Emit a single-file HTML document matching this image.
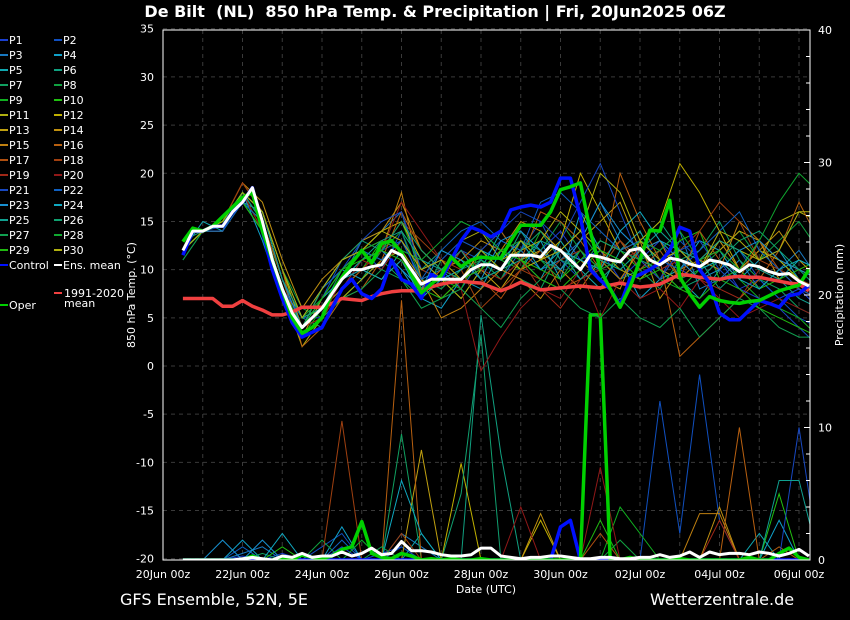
<!DOCTYPE html>
<html><head><meta charset="utf-8"><style>
html,body{margin:0;padding:0;background:#000;}
svg{display:block;font-family:"DejaVu Sans","Liberation Sans",sans-serif;}
</style></head><body>
<svg id="chart" width="850" height="620" viewBox="0 0 850 620">
<rect x="0" y="0" width="850" height="620" fill="#000"/>
<text x="435" y="17" fill="#fff" font-size="16" font-weight="bold" text-anchor="middle" style="white-space:pre" xml:space="preserve">De Bilt  (NL)  850 hPa Temp. &amp; Precipitation | Fri, 20Jun2025 06Z</text>
<defs><clipPath id="pc"><rect x="163" y="30" width="647" height="530"/></clipPath></defs>
<g id="grid"></g>
<g id="precip" clip-path="url(#pc)"></g>
<g id="temps" clip-path="url(#pc)"></g>
<rect x="163" y="30" width="647" height="530" fill="none" stroke="#fff" stroke-width="1"/>
<g id="axes"></g>
<g id="legend"></g>
<text x="135" y="295" fill="#fff" font-size="11" text-anchor="middle" transform="rotate(-90 135 295)">850 hPa Temp. (°C)</text>
<text x="843" y="295" fill="#fff" font-size="11" text-anchor="middle" transform="rotate(-90 843 295)">Precipitation (mm)</text>
<text x="486" y="593" fill="#fff" font-size="11" text-anchor="middle">Date (UTC)</text>
<text x="120" y="605" fill="#fff" font-size="16">GFS Ensemble, 52N, 5E</text>
<text x="650" y="605" fill="#fff" font-size="16">Wetterzentrale.de</text>
</svg>
<script>
const xLabels=["20Jun 00z","22Jun 00z","24Jun 00z","26Jun 00z","28Jun 00z","30Jun 00z","02Jul 00z","04Jul 00z","06Jul 00z"];
const yTicks=[35,30,25,20,15,10,5,0,-5,-10,-15,-20];
const y2Ticks=[40,30,20,10,0];
const memberNames=["P1","P2","P3","P4","P5","P6","P7","P8","P9","P10","P11","P12","P13","P14","P15","P16","P17","P18","P19","P20","P21","P22","P23","P24","P25","P26","P27","P28","P29","P30"];
const memberColors=["#1a3fd0","#1050c0","#1878c0","#10a0c8","#10a8b0","#10a080","#10a060","#10a040","#10b020","#20c010","#b0b010","#c0b000","#c0a010","#c09010","#c08010","#b86010","#b05010","#a04010","#a02818","#901818","#1848c0","#1060c0","#1890d0","#10a8c0","#10a090","#10a070","#10a050","#10a830","#20b810","#b0b010"];
// 12-hourly member temps, t = 0.5 .. 16.5 days
const memberTemps=[
[12,14,14.5,17,16,10,5,5,8,11,12,13,9,8,10,12,11,13,12,14,11,12,9,11,13,10,9,11,8,9,7,8,6],
[12,14,14,17,14,7,4,7,11,12,10,14,8,9,12,11,13,12,15,11,9,10,14,12,9,13,11,10,12,9,7,5,4],
[11,14,15,18,15,8,3,5,9,13,14,16,9,10,8,11,9,12,10,11,13,17,13,10,12,14,8,9,11,8,10,12,9],
[12,14,14,18,13,7,4,8,10,9,12,10,7,6,9,8,12,10,13,9,16,12,11,7,9,10,13,12,9,11,12,9,8],
[12,15,14,17,16,9,5,6,8,10,9,12,11,9,7,10,14,11,9,13,10,8,12,14,10,9,7,10,12,10,9,11,10],
[13,14,15,17,15,9,5,4,7,9,11,13,10,12,11,9,10,14,11,10,12,9,11,13,15,12,11,8,10,13,11,9,7],
[12,14,15,18,15,8,4,6,10,12,11,9,7,11,13,12,10,9,8,12,14,11,9,10,8,11,12,15,11,9,8,6,5],
[11,14,14,18,16,10,6,5,7,9,12,14,9,8,10,11,9,13,12,15,12,10,13,11,12,9,10,12,14,11,13,15,12],
[12,14,15,17,14,7,3,6,9,11,12,15,10,9,8,12,11,10,14,12,9,11,10,12,9,8,10,11,9,7,6,5,3],
[12,14,15,17,15,9,5,6,9,10,13,12,8,10,11,10,12,11,10,9,11,13,12,10,11,13,14,9,10,8,9,10,11],
[12,14,14,18,15,8,2,5,7,9,11,12,8,9,13,14,11,12,13,16,14,12,10,9,11,12,10,13,12,11,15,16,15],
[12,14,15,18,16,10,4,8,11,12,14,15,11,9,7,10,12,10,11,13,20,16,12,13,15,21,18,14,10,12,11,9,8],
[12,14,14,18,14,7,3,7,10,12,13,12,9,7,9,10,8,11,12,10,13,15,17,12,10,9,11,12,14,13,9,8,7],
[12,14,15,19,17,11,6,9,11,13,14,17,12,10,11,13,12,15,14,12,11,9,8,13,7,10,11,13,10,12,14,11,9],
[12,14,14,18,15,9,4,6,8,10,12,18,9,5,6,8,10,9,7,10,8,11,9,12,13,9,11,10,15,13,11,10,9],
[12,14,15,19,16,10,2,4,7,8,11,16,12,10,9,12,14,11,16,15,13,10,20,15,11,1,3,5,7,9,12,17,13],
[12,14,15,18,15,9,3,5,8,10,9,11,8,10,12,9,7,10,12,8,9,11,13,10,12,9,14,11,9,13,10,8,7],
[12,14,15,19,16,9,4,6,9,11,12,15,13,11,10,6,8,10,9,11,12,10,13,11,9,12,14,17,15,11,10,9,8],
[12,14,15,18,16,9,4,5,8,11,10,13,10,9,12,10,9,11,8,6,9,10,11,12,10,11,9,8,7,10,9,8,7],
[12,14,15,18,14,8,3,5,9,10,12,17,14,11,8,-0.5,3,6,8,7,10,5,9,7,8,6,9,7,5,6,7,6,5],
[12,14,14,18,15,8,4,7,10,13,15,16,10,11,13,12,14,16,15,13,17,21,16,11,9,12,13,10,8,7,6,4,2],
[12,14,14,17,15,8,5,8,10,12,11,13,9,12,14,15,13,12,17,18,16,14,12,13,11,10,12,14,16,12,10,8,7],
[12,14,15,18,16,9,4,6,9,11,12,10,8,12,11,9,13,14,12,10,13,17,14,12,13,11,9,10,12,13,11,10,9],
[12,14,15,18,15,8,4,7,9,10,9,11,7,9,10,12,11,13,10,12,11,10,14,16,13,12,10,11,9,8,10,11,10],
[12,14,15,18,16,9,5,6,9,11,13,14,11,10,12,9,10,11,13,12,9,11,10,12,14,12,11,13,12,10,9,7,6],
[12,14,15,18,15,8,4,8,11,13,12,15,12,10,9,11,10,12,14,11,10,13,12,11,10,8,9,11,13,14,12,10,8],
[12,14,15,17,14,7,3,5,7,8,10,9,6,7,8,6,4,7,9,8,6,5,7,5,4,6,3,5,7,6,4,3,3],
[12,14,15,18,16,10,5,7,10,12,13,12,11,13,15,14,12,13,11,9,12,10,11,13,12,14,11,12,10,13,17,20,18],
[12,14,15,17,14,8,4,7,10,11,12,11,8,7,9,10,12,11,9,8,10,12,11,9,10,8,7,9,8,6,5,4,3],
[12,14,15,18,16,10,5,8,11,12,14,13,10,11,9,12,10,13,11,12,14,20,18,13,11,12,10,14,13,11,12,16,16]
];
// 12-hourly member precipitation (mm)
const memberPrecip=[
[0,0,0,0.3,0,0.5,0,0,1,0,0.5,1,0,0,0,0,0,0,0,0,0,0,0,0,0,0,0,0,0,0,0,0,0],
[0,0,0,0,0,0,0,1,2,0,0,1,0,0,0,0,0,0,0,0,0,0,0,0,12,2,14,3,0,0,0,0,0],
[0,0,0,0.5,1,0,0,0,0,0,0,2,1,0,0,0,0,0,0,0,0,0,0,0,0,0,0,0,0,0,0,0,0],
[0,0,0,1.5,0,0,0,0,2.5,0,0,0,0,0,0,0,0,0,0,0,0,0,0,0,0,0,0,0,0,0,3,0,0],
[0,0,0,0,0,0,0,0,0,0,0,0,2,0,0,0,0,0,0,0,0,0,0,0,0,0,0,0,0,2,0,0,0],
[0,0,0,0,0,0,0,0,0,0,0,0,0,0,0,18.5,8,0,0,0,0,0,0,0,0,0,0,0,0,0,0,0,0],
[0,0,0,0,0.5,0,0,0,0,0,0,9.5,0,0,0,0,0,0,0,0,0,0,0,0,0,0,0,0,0,0,0,0,0],
[0,0,0,0,0,0,0,1.5,0,0,0,0,0,0,0,0,0,0,0,0,0,0,1.5,0,0,0,0,0,0,0,0,0,0],
[0,0,0,0,0,0,0,0,0,0,0,0,0,0,0,0,0,0,0,0,0,0,4,2,0,0,0,0,0,0,0,0,0],
[0,0,0,0,0,1,0,0,0,0,0,0,0,0,0,0,0,0,0,0,0,0,0,0,0,0,0,0,0,0,5,0,0],
[0,0,0,0,0,0,0,0,0,0,0,0,0,0,0,0,0,0,0,0,0,0,0,0,0,0,0,0,0,0,0,0,0],
[0,0,0,0,0,0,0,0,0,0,0,0,0,0,7.3,0,0,0,3,0,0,0,0,0,0,0,0,0,0,0,0,0,0],
[0,0,0,0,0,0,0,0,0,0,0,0,8.3,0,0,0,0,0,0,0,0,0,0,0,0,0,0,0,0,0,0,0,0],
[0,0,0,0,0,0,0,0,0,0,0,0,0,0,0,0,0,0,3.5,0,0,0,0,0,0,0,0,4,0,0,0,0,0],
[0,0,0,0,0,0,0,0,0,0,0,0,0,0,0,0,0,0,0,0,0,0,0,0,0,0,3.5,3.5,0,0,0,0,0],
[0,0,0,0,0,0,0,0,0,0,0,19.6,0,0,0,0,0,0,0,0,0,0,0,0,0,0,0,0,10,0,1,0,0],
[0,0,0,0,0,0,0,0,0,0,0,0,0,0,0,0,0,0,0,0,0,2,0,0,0,0,0,0,0,0,0,0,0],
[0,0,0,0,0,0,0,0,10.5,0,0,2,0,0,0,0,0,0,0,0,0,0,0,0,0,0,0,0,0,0,0,0,0],
[0,0,0,0,0,0,0,0,0,0,0,0,0,0,0,0,0,0,0,0,0,0,0,0,0,0,0,3,0,0,0,0,0],
[0,0,0,0,0,0,0,0,0,0,0,0,0,0,0,0,0,4,0,0,0,7,0,0,0,0,0,0,0,0,0,0,0],
[0,0,0,0,0,0,0,0,0,0,0,0,0,0,0,0,0,0,0,0,0,0,0,0,0,0,0,0,0,0,0,10,0],
[0,0,0,1,0,0,0,0,1.5,0,0,0,0,0,0,0,0,0,0,0,0,0,0,0,0,0,0,0,0,0,0,0,0],
[0,0,1.5,0,1.5,0,0,0,0,0,0,0,0,0,0,0,0,0,0,0,0,0,0,0,0,0,0,0,0,0,0,0,0],
[0,0,0,0,0,2,0,0,0,0,0,6,2,0,0,0,0,0,0,0,0,0,0,0,0,0,0,0,0,0,0,0,0],
[0,0,0,0,0,0,0,0,0,0,0,0,0,0,0,0,0,0,0,0,0,0,0,0,0,0,0,0,0,0,6,6,0],
[0,0,0,0,0,0,0,0,0,0,0,0,0,0,5,17,0,0,0,0,0,0,0,0,0,0,0,0,0,0,0,0,0],
[0,0,0,0,0,0,0,0,0,0,1,0,0,0,0,0,0,0,0,0,0,0,0,0,0,0,0,0,0,0,0,0,0],
[0,0,0,0,0,0,0,0,0,1.5,0,0,0,0,0,0,0,0,0,0,0,0,0,0,0,0,0,0,0,0,0,0,0],
[0,0,0,0,0,0,0,0,0,0,0,0,0,0,0,0,0,0,0,0,0,3,0,0,0,0,0,0,0,0,0,0,0],
[0,0,0,0,0,0,0,0,0,0,0,0,0,0,0,0,0,0,0,0,0,0,0,0,0,0,0,0,0,0,0,0,0]
];
// 6-hourly main series, t = 0.5 .. 16.25 days
const meanTemp=[12,14,14,14.5,14.5,16,17,18.5,15,11,8,5.5,4,5,6,7.5,9,10,10,10.3,10.5,12,11.5,10,8.5,9,9,9,9,10,10.5,10.5,10,11.5,11.5,11.5,11.3,12.5,12,11,10,11.5,11.3,11,10.8,12,12.2,11,10.5,11.2,11,10.6,10.3,11,10.8,10.5,9.8,10.5,10.3,9.8,9.5,9.6,8.8,8.3];
const controlTemp=[11.5,14,14,14.5,14.5,16,17,18.5,14,10,7,4.5,3,3.5,4,6,8,9,7.5,7,8,11,9,8.5,7,9.5,9,11,13,14.4,14,13.4,14,16.2,16.5,16.7,16.5,17,19.5,19.5,15.5,10,8.9,8,6.3,9.1,9.5,10,10.7,12,14.4,14,10,8.6,5.5,4.8,4.8,5.8,6.8,6.5,6.1,7.3,7.5,8.4];
const operTemp=[12.9,14.3,14,14.5,15.5,16.5,17.5,18,14,11,7.9,5,3.4,4,5,7.6,9.2,10.7,12,10.7,12.7,13,11.8,9.5,7.6,8.5,9.4,11.3,10.3,11,11.3,11.2,11.2,13,14.6,14.6,14.6,16,18.3,18.6,19,14,10,8,6.1,8.2,11,14.1,14,17.2,9.2,7.5,6.1,7.2,6.8,6.6,6.5,6.7,6.8,7.3,7.8,8.1,8.4,10];
const climTemp=[7,7,7,7,6.2,6.2,6.8,6.2,5.8,5.3,5.3,5.6,6.1,6.1,6.1,6.5,7,6.9,6.8,7.2,7.5,7.7,7.8,7.8,7.8,8.2,8.5,8.7,8.8,8.7,8.6,8.2,7.8,8.2,8.7,8.3,7.9,8,8.1,8.2,8.3,8.2,8.1,8.4,8.6,8.4,8.2,8.3,8.5,9,9.5,9.4,9.2,9.1,9,9.2,9.3,9.2,9.2,9,8.8,8.6,8.5,7.8];
const meanPrecip=[0,0,0,0,0,0,0.1,0.2,0.1,0,0.3,0.2,0.5,0.2,0.3,0.3,0.6,0.3,0.5,0.9,0.4,0.5,1.4,0.7,0.7,0.6,0.4,0.3,0.3,0.4,0.9,0.9,0.3,0.2,0.1,0.2,0.2,0.3,0.3,0.2,0.1,0.1,0.2,0.2,0.1,0.1,0.2,0.2,0.4,0.2,0.3,0.6,0.2,0.6,0.4,0.5,0.5,0.4,0.6,0.5,0.3,0.5,0.8,0.3];
const controlPrecip=[0,0,0,0,0,0,0,0,0,0,0,0,0,0,0,0,0,0,0,0,0,0,0,0,0,0,0,0,0,0,0,0,0,0,0,0,0,0,2.5,3,0,0,0,0,0,0,0,0,0,0,0,0,0,0,0,0,0,0,0,0,0,0,0,0];
const operPrecip=[0,0,0,0,0,0,0,0.3,0,0,0.2,0,0.4,0.2,0.1,0.3,0.8,1,2.9,0.5,0.2,0.1,0.5,0.3,0,0.1,0,0.1,0,0,0.1,0,0,0,0,0,0,0,0,0,0,18.5,18.5,0,0,0.2,0,0,0,0,0.1,0,0,0,0,0,0,0.2,0,0,0.5,0.9,0.2,0];

const NS="http://www.w3.org/2000/svg";
const X0=163,DAY=39.75,Y0=366,DEG=530/55,PY0=560,MM=530/40;
function xs(t){return X0+t*DAY;}
function yt(v){return Y0-v*DEG;}
function yp(v){return PY0-v*MM;}
function mk(tag,attrs,parent){const e=document.createElementNS(NS,tag);for(const k in attrs)e.setAttribute(k,attrs[k]);parent.appendChild(e);return e;}
function pts(arr,t0,dt,fy){return arr.map((v,i)=>xs(t0+i*dt).toFixed(1)+","+fy(v).toFixed(1)).join(" ");}

const grid=document.getElementById('grid'),axes=document.getElementById('axes');
yTicks.forEach(v=>{
  const g=mk('line',{x1:X0,x2:810,y1:yt(v),y2:yt(v),stroke:'#3a3a3a','stroke-dasharray':'4,4'},grid);
  
  
  const t=mk('text',{x:154,y:yt(v)+4,fill:'#fff','font-size':11,'text-anchor':'end'},axes);
  t.textContent=v;
  
  
});
for(let d=1;d<17;d++){
  const g=mk('line',{x1:xs(d),x2:xs(d),y1:30,y2:560,stroke:'#3a3a3a','stroke-dasharray':'4,4'},grid);
  
  
}
xLabels.forEach((l,i)=>{
  const t=mk('text',{x:xs(i*2),y:578,fill:'#fff','font-size':11,'text-anchor':'middle'},axes);
  t.textContent=l;
  
  
});
y2Ticks.forEach(v=>{
  const t=mk('text',{x:818,y:yp(v)+4,fill:'#fff','font-size':11},axes);
  t.textContent=v;
  
  
});
for(let m=0;m<=40;m+=2){
  const tk=mk('line',{x1:810,x2:m%10===0?804:806,y1:yp(m),y2:yp(m),stroke:'#fff'},axes);
  
  
}

const pg=document.getElementById('precip'),tg=document.getElementById('temps');
memberPrecip.forEach((arr,i)=>{
  const p=mk('polyline',{points:pts(arr,0.5,0.5,yp),fill:'none',stroke:memberColors[i],'stroke-width':1},pg);
  
  
});
memberTemps.forEach((arr,i)=>{
  const p=mk('polyline',{points:pts(arr,0.5,0.5,yt),fill:'none',stroke:memberColors[i],'stroke-width':1},tg);
  
  
});
function main(arr,fy,col,w,name,par){
  const p=mk('polyline',{points:pts(arr,0.5,0.25,fy),fill:'none',stroke:col,'stroke-width':w,'stroke-linejoin':'round'},par);
  
  
}
main(controlPrecip,yp,'#0010ff',3.5,'precip-control',pg);
main(operPrecip,yp,'#00d000',3.5,'precip-oper',pg);
main(meanPrecip,yp,'#ffffff',3,'precip-ens-mean',pg);
main(climTemp,yt,'#f04040',3.5,'temp-climate-mean',tg);
main(controlTemp,yt,'#0010ff',3.5,'temp-control',tg);
main(operTemp,yt,'#00d000',3.5,'temp-oper',tg);
main(meanTemp,yt,'#ffffff',3,'temp-ens-mean',tg);

const lg=document.getElementById('legend');
memberNames.forEach((n,i)=>{
  const col=i%2,row=Math.floor(i/2);
  const lx=col?54:0,ly=40+row*15;
  const ln=mk('line',{x1:lx,x2:lx+8,y1:ly,y2:ly,stroke:memberColors[i],'stroke-width':2},lg);
  
  
  const t=mk('text',{x:lx+9,y:ly+4,fill:'#fff','font-size':11},lg);
  t.textContent=n;
  
  
});
[["Control","#0010ff",0,265],["Ens. mean","#ffffff",54,265],["Oper","#00d000",0,305]].forEach(e=>{
  const ln=mk('line',{x1:e[2],x2:e[2]+8,y1:e[3],y2:e[3],stroke:e[1],'stroke-width':2},lg);
  
  
  const t=mk('text',{x:e[2]+9,y:e[3]+4,fill:'#fff','font-size':11},lg);
  t.textContent=e[0];
  
  
});
const cl=mk('line',{x1:54,x2:62,y1:293,y2:293,stroke:'#f04040','stroke-width':2},lg);


const ct=mk('text',{x:64,y:297,fill:'#fff','font-size':11},lg);
ct.textContent='1991-2020';


const ct2=mk('text',{x:64,y:307,fill:'#fff','font-size':11},lg);
ct2.textContent='mean';


</script>
</body></html>
